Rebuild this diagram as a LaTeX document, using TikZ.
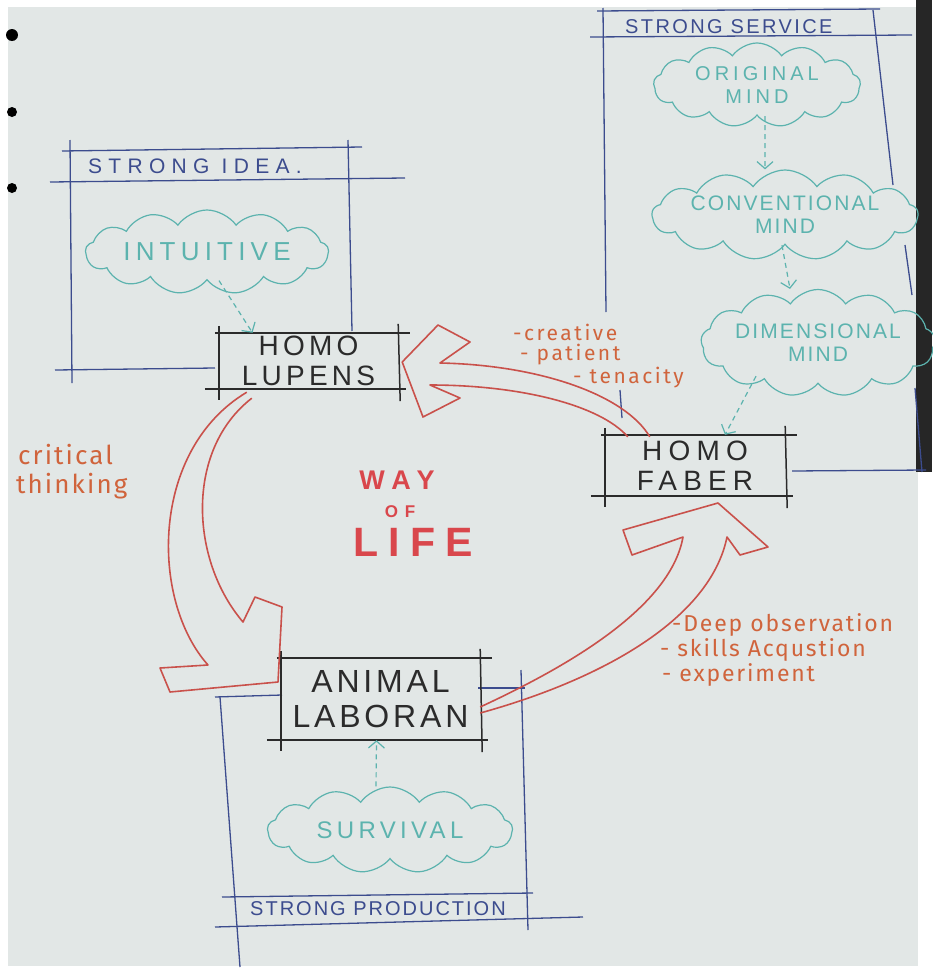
\documentclass[tikz,border=0pt]{standalone}
\usepackage{fontspec}
\setmainfont{Liberation Sans}
\newfontfamily\handfont{Fira Sans}
\usetikzlibrary{shapes.symbols,calc,arrows.meta}

\definecolor{paper}{HTML}{E2E7E6}
\definecolor{inkblue}{HTML}{3C4C8E}
\definecolor{inkteal}{HTML}{5CB3AE}
\definecolor{inkblack}{HTML}{2B2B2B}
\definecolor{inkred}{HTML}{C9514B}
\definecolor{inkorange}{HTML}{D0643C}
\definecolor{inkpink}{HTML}{D9474C}

\tikzset{
  frameline/.style={draw=inkblue, line width=1.3pt},
  boxline/.style={draw=inkblack, line width=1.5pt},
  mindbox/.style={inner sep=0pt, align=center, text=inkblack,
    font=\fontsize{28}{30}\selectfont\addfontfeatures{LetterSpace=15}},
  thought/.style={cloud, cloud puffs=13, cloud puff arc=110, cloud ignores aspect,
    draw=inkteal, line width=1.2pt, inner sep=0pt, align=center, text=inkteal,
    font=\fontsize{21}{23}\selectfont\addfontfeatures{LetterSpace=10}},
  hint/.style={draw=inkteal, line width=1.2pt, dash pattern=on 5pt off 4pt,
    -{Straight Barb[length=7pt,width=16pt]}},
  bigarrow/.style={draw=inkred, line width=1.6pt, line join=round},
  note/.style={anchor=west, text=inkorange, inner sep=0pt,
    font=\handfont\fontsize{23}{25}\selectfont\addfontfeatures{LetterSpace=8}},
  heading/.style={text=inkblue, inner sep=0pt}
}

% box with the lines running past its corners
\newcommand{\sketchbox}[1]{
  \draw[boxline] ($(#1.north west)+(-4,0)$) -- ($(#1.north east)+(12,0)$);
  \draw[boxline] ($(#1.south west)+(-14,0)$) -- ($(#1.south east)+(8,0)$);
  \draw[boxline] ($(#1.north west)+(0,-7)$) -- ($(#1.south west)+(0,11)$);
  \draw[boxline] ($(#1.north east)+(0,-9)$) -- ($(#1.south east)+(2,12)$);
}

\begin{document}
\begin{tikzpicture}[x=1pt, y=-1pt]
  \useasboundingbox (0,0) rectangle (932,972);

  % the sheet of paper
  \fill[white] (0,0) rectangle (932,972);
  \fill[paper] (8,7) rectangle (918,966);
  \fill[black!85] (916,0) rectangle (932,472);
  \fill[black] (12,35) circle (6);
  \fill[black] (12,112) circle (5);
  \fill[black] (12,188) circle (5);

  % strong idea frame
  \draw[frameline] (70,140) -- (72,383);
  \draw[frameline] (348,140) -- (352,331);
  \draw[frameline] (62,151) -- (362,147);
  \draw[frameline] (50,182) -- (405,178);
  \draw[frameline] (55,370) -- (215,368);
  \node[heading, anchor=west, font=\fontsize{21}{21}\selectfont\addfontfeatures{LetterSpace=30}] (idea) at (88,166) {STRONG IDEA.};

  % strong service frame
  \draw[frameline] (603,8) -- (606,312);
  \draw[frameline] (620,390) -- (622,418);
  \draw[frameline] (597,11) -- (880,9);
  \draw[frameline] (590,37) -- (912,35);
  \draw[frameline] (873,10) -- (893,185);
  \draw[frameline] (905,245) -- (912,295);
  \draw[frameline] (915,388) -- (922,472);
  \draw[frameline] (792,471) -- (926,470);
  \node[heading, anchor=west, font=\fontsize{20}{20}\selectfont\addfontfeatures{LetterSpace=12}] (service) at (625,27) {STRONG SERVICE};

  % strong production frame
  \draw[frameline] (220,697) -- (240,967);
  \draw[frameline] (215,697) -- (282,695);
  \draw[frameline] (478,688) -- (525,688);
  \draw[frameline] (521,670) -- (528,930);
  \draw[frameline] (222,897) -- (533,893);
  \draw[frameline] (215,927) -- (583,917);
  \node[heading, anchor=west, font=\fontsize{20}{20}\selectfont\addfontfeatures{LetterSpace=10}] (production) at (250,909) {STRONG PRODUCTION};

  % the three kinds of man
  \node[mindbox, minimum width=179, minimum height=56] (lupens) at (308.5,361) {HOMO\\LUPENS};
  \node[mindbox, minimum width=180, minimum height=61, font=\fontsize{28}{30}\selectfont\addfontfeatures{LetterSpace=22}] (faber) at (695,465.5) {HOMO\\FABER};
  \node[mindbox, minimum width=199, minimum height=82, font=\fontsize{32}{35}\selectfont\addfontfeatures{LetterSpace=12}] (laboran) at (380.5,699) {ANIMAL\\LABORAN};
  \sketchbox{lupens}
  \sketchbox{faber}
  \sketchbox{laboran}

  % clouds
  \node[thought, minimum width=243, minimum height=84, font=\fontsize{26}{26}\selectfont\addfontfeatures{LetterSpace=20}] (intuitive) at (207,252) {INTUITIVE};
  \node[thought, minimum width=207, minimum height=84, font=\fontsize{20}{23}\selectfont\addfontfeatures{LetterSpace=20}] (original) at (757,85) {ORIGINAL\\MIND};
  \node[thought, minimum width=244, minimum height=90] (conventional) at (785,215) {CONVENTIONAL\\MIND};
  \node[thought, minimum width=217, minimum height=107] (dimensional) at (818,343) {DIMENSIONAL\\MIND};
  \node[thought, minimum width=245, minimum height=86, font=\fontsize{24}{24}\selectfont\addfontfeatures{LetterSpace=18}] (survival) at (390,830) {SURVIVAL};

  \draw[hint] ([xshift=12]intuitive.south) -- ([xshift=-56]lupens.north);
  \draw[hint] ([xshift=8]original.south) -- ([xshift=-20]conventional.north);
  \draw[hint] ([xshift=-3]conventional.south) -- ([xshift=-28]dimensional.north);
  \draw[hint] ($(dimensional.south)+(-62,-8)$) -- ([xshift=30]faber.north);
  \draw[hint] ([xshift=-14]survival.north) -- ([xshift=-4]laboran.south);

  % hollow arrows of the cycle
  \draw[bigarrow] ($(faber.north west)+(45,2)$) .. controls (625,395) and (540,365) .. (440,363)
    -- (470,342) -- (438,325) -- ($(lupens.east)+(4,1)$) -- (423,417) -- (460,398) -- (430,385)
    .. controls (520,385) and (600,405) .. ($(faber.north west)+(23,2)$);
  \draw[bigarrow] ($(lupens.south west)+(28,3)$) .. controls (150,450) and (150,600) .. (208,665)
    -- (160,668) -- (170,692) -- (278,682) -- (282,607) -- (255,597) -- (243,622)
    .. controls (190,560) and (185,450) .. ($(lupens.south west)+(33,9)$);
  \draw[bigarrow] ($(laboran.east)+(0,8)$) .. controls (560,670) and (670,610) .. (683,537)
    -- (632,555) -- (623,530) -- (718,503) -- (768,547) -- (740,555) -- (727,537)
    .. controls (710,620) and (600,680) .. ($(laboran.east)+(0,14)$);

  % middle text
  \node[text=inkpink, font=\bfseries\fontsize{27}{27}\selectfont\addfontfeatures{LetterSpace=30}] (way) at (397,480) {WAY};
  \node[text=inkpink, font=\bfseries\fontsize{17}{17}\selectfont\addfontfeatures{LetterSpace=40}] (of) at (400,512) {OF};
  \node[text=inkpink, font=\bfseries\fontsize{41}{41}\selectfont\addfontfeatures{LetterSpace=25}] (life) at (413,542) {LIFE};

  % notes on the arrows
  \node[note, font=\handfont\fontsize{21}{22}\selectfont\addfontfeatures{LetterSpace=12}] (creative) at (513,332) {-creative};
  \node[note, font=\handfont\fontsize{21}{22}\selectfont\addfontfeatures{LetterSpace=12}] (patient) at (520,355) {- patient};
  \node[note, font=\handfont\fontsize{21}{22}\selectfont\addfontfeatures{LetterSpace=12}] (tenacity) at (573,378) {- tenacity};
  \node[note, font=\handfont\fontsize{26}{28}\selectfont\addfontfeatures{LetterSpace=8}] (critical) at (18,455) {critical};
  \node[note, font=\handfont\fontsize{26}{28}\selectfont\addfontfeatures{LetterSpace=8}] (thinking) at (16,486) {thinking};
  \node[note] (deep) at (672,625) {-Deep observation};
  \node[note] (skills) at (660,650) {- skills Acqustion};
  \node[note] (experiment) at (662,675) {- experiment};
\end{tikzpicture}
\end{document}
